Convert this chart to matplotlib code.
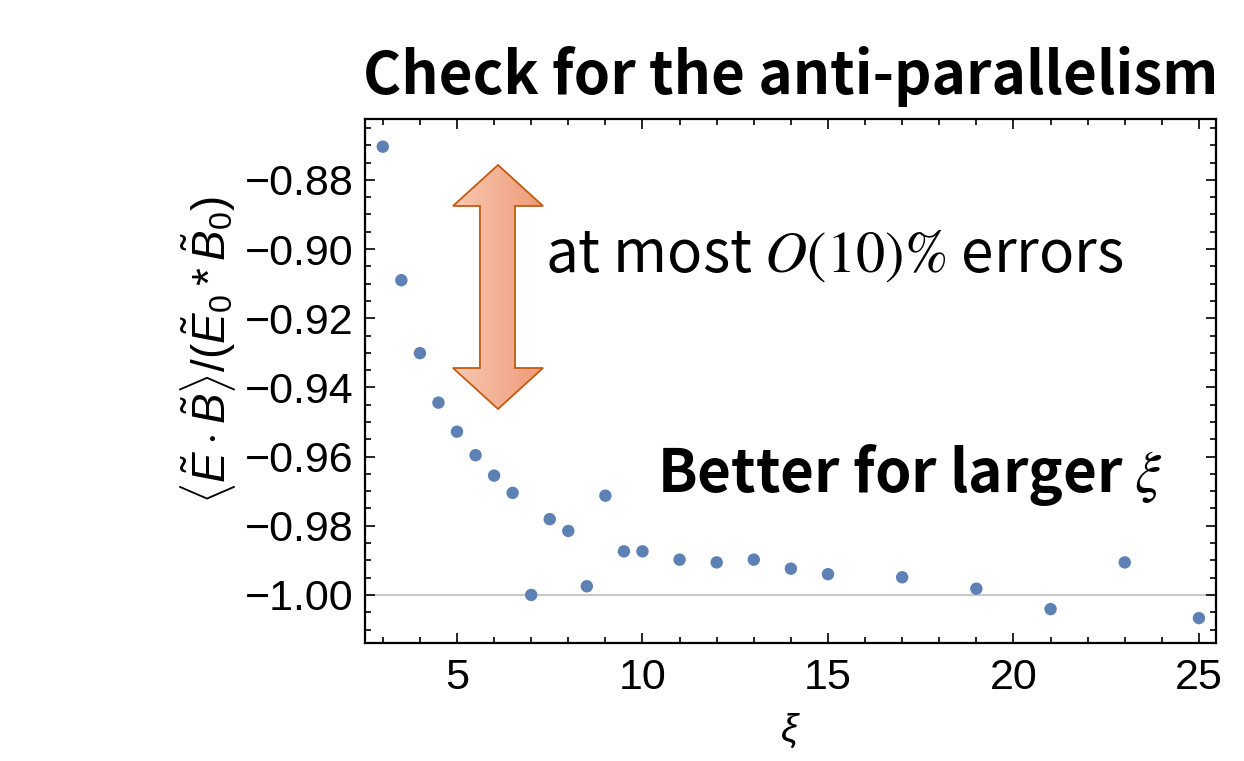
import numpy as np
import matplotlib
matplotlib.use("Agg")
import matplotlib.pyplot as plt
from matplotlib.patches import Polygon
from matplotlib.colors import LinearSegmentedColormap

# data
xi = [3, 3.5, 4, 4.5, 5, 5.5, 6, 6.5, 7, 7.5, 8, 8.5, 9, 9.5, 10,
      11, 12, 13, 14, 15, 17, 19, 21, 23, 25]
ratio = [-0.8704, -0.9090, -0.9301, -0.9444, -0.9528, -0.9596, -0.9655, -0.9705,
         -1.0000, -0.9781, -0.9815, -0.9975, -0.9713, -0.9874, -0.9874,
         -0.9898, -0.9906, -0.9898, -0.9924, -0.9940, -0.9949, -0.9982,
         -1.0041, -0.9906, -1.0067]
x_ticks = [5, 10, 15, 20, 25]
y_ticks = [-1.00, -0.98, -0.96, -0.94, -0.92, -0.90, -0.88]

title = "Check for the anti-parallelism"
note_err = r"at most $O(10)\%$ errors"
note_xi = r"Better for larger $\xi$"

plt.rcParams['mathtext.fontset'] = 'custom'
plt.rcParams['mathtext.rm'] = 'Liberation Sans'
plt.rcParams['mathtext.it'] = 'Liberation Sans:italic'
plt.rcParams['axes.unicode_minus'] = True

fig = plt.figure(figsize=(12.44, 7.61), dpi=100)
ax = fig.add_axes([365/1244, 118/761, 851/1244, 524/761])

ax.axhline(-1.0, color='#c8c8c8', lw=1.5, zorder=1)
ax.scatter(xi, ratio, s=80, color='#5e81b5', edgecolors='none', zorder=3)

ax.set_xlim(2.52, 25.46)
ax.set_ylim(-1.0139, -0.8624)
ax.set_xticks(x_ticks)
ax.set_yticks(y_ticks)
ax.set_xticks(np.arange(3, 26, 1), minor=True)
ax.set_yticks(np.arange(-1.010, -0.862, 0.005), minor=True)
ax.set_yticklabels([f"\u2212{abs(v):.2f}" for v in y_ticks])

for s in ax.spines.values():
    s.set_linewidth(1.6)
ax.tick_params(which='both', direction='in', top=True, right=True, width=1.2)
ax.tick_params(which='major', length=7, labelsize=31, pad=8)
ax.tick_params(which='minor', length=4)
ax.tick_params(axis='x', which='major', pad=11)
for lab in ax.get_xticklabels() + ax.get_yticklabels():
    lab.set_family('Liberation Sans')

ax.set_ylabel(r"$\langle\tilde{E}\cdot\tilde{B}\rangle/(\tilde{E}_0*\tilde{B}_0)$",
              fontsize=33, va='center')
ax.yaxis.set_label_coords(-0.184, 0.559)
ax.set_xlabel(r"$\xi$", fontsize=28)
ax.xaxis.set_label_coords(0.5, -0.13)

ax.set_title(title, fontsize=42, fontweight='bold', family='Noto Sans CJK JP', pad=18)

ax.text(0.2115, 0.708, note_err, transform=ax.transAxes, fontsize=42,
        family='Noto Sans CJK JP', math_fontfamily='stix', ha='left', va='baseline')
ax.text(0.343, 0.288, note_xi, transform=ax.transAxes, fontsize=42, fontweight='bold',
        family='Noto Sans CJK JP', math_fontfamily='stix', ha='left', va='baseline')

# double headed block arrow (axes fraction)
hx0, hx1 = 0.1034, 0.2092
sx0, sx1 = 0.1351, 0.1763
cx = 0.1563
yt, yhb_top, yhb_bot, yb = 0.9122, 0.8340, 0.5248, 0.4466
arrow_pts = [(cx, yt), (hx1, yhb_top), (sx1, yhb_top), (sx1, yhb_bot), (hx1, yhb_bot),
             (cx, yb), (hx0, yhb_bot), (sx0, yhb_bot), (sx0, yhb_top), (hx0, yhb_top)]
poly = Polygon(arrow_pts, closed=True, transform=ax.transAxes,
               facecolor='none', edgecolor='#c55a11', lw=1.3, zorder=5)
ax.add_patch(poly)
cmap = LinearSegmentedColormap.from_list('arr', ['#f8c9b2', '#f3b195', '#ee9a76'])
grad = np.linspace(0, 1, 256).reshape(1, -1)
im = ax.imshow(grad, cmap=cmap, extent=[hx0, hx1, yb, yt], transform=ax.transAxes,
               aspect='auto', zorder=4, interpolation='bicubic')
im.set_clip_path(poly)
ax.set_xlim(2.52, 25.46)
ax.set_ylim(-1.0139, -0.8624)

fig.savefig('out.png', dpi=100)
